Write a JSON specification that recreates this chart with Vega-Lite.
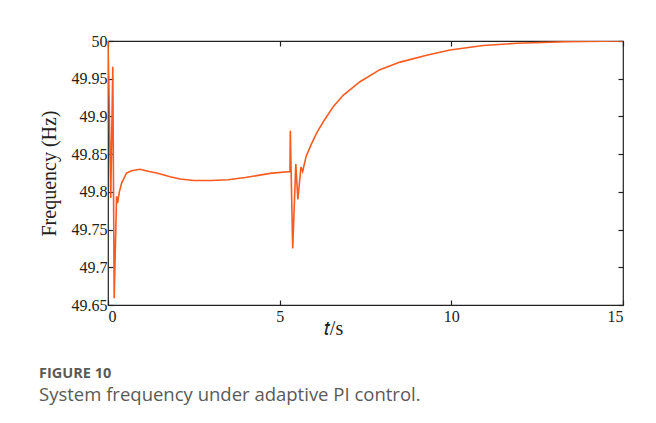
{
  "$schema": "https://vega.github.io/schema/vega-lite/v6.json",
  "width": 515,
  "height": 264,
  "autosize": {"type": "none"},
  "padding": {"left": 108, "top": 41, "right": 33, "bottom": 118},
  "background": "white",
  "config": {
    "view": {"stroke": "#222", "strokeWidth": 1.2},
    "axis": {"domain": false, "grid": false, "tickColor": "#222", "tickSize": -5, "tickWidth": 1.2,
      "labelFont": "Liberation Serif", "labelFontSize": 16, "labelColor": "#222",
      "titleFont": "Liberation Serif", "titleFontSize": 20, "titleFontWeight": "normal", "titleColor": "#222"}
  },
  "title": {
    "text": "FIGURE 10",
    "subtitle": "System frequency under adaptive PI control.",
    "orient": "bottom",
    "anchor": "start",
    "frame": "bounds",
    "offset": 29,
    "font": "Open Sans",
    "fontSize": 14.5,
    "fontWeight": "bold",
    "color": "#5a5a5a",
    "subtitleFont": "Open Sans",
    "subtitleFontSize": 18.5,
    "subtitleColor": "#5a5a5a",
    "subtitlePadding": 4
  },
  "data": {"values": [
    {"t": 0, "f": 50.0},
    {"t": 0.03, "f": 49.93},
    {"t": 0.08, "f": 49.792},
    {"t": 0.14, "f": 49.966},
    {"t": 0.18, "f": 49.659},
    {"t": 0.25, "f": 49.794},
    {"t": 0.28, "f": 49.785},
    {"t": 0.33, "f": 49.8},
    {"t": 0.4, "f": 49.812},
    {"t": 0.54, "f": 49.825},
    {"t": 0.69, "f": 49.828},
    {"t": 0.93, "f": 49.83},
    {"t": 1.2, "f": 49.827},
    {"t": 1.42, "f": 49.825},
    {"t": 1.81, "f": 49.82},
    {"t": 2.1, "f": 49.817},
    {"t": 2.5, "f": 49.815},
    {"t": 3.0, "f": 49.815},
    {"t": 3.5, "f": 49.816},
    {"t": 4.0, "f": 49.819},
    {"t": 4.72, "f": 49.8245},
    {"t": 5.3, "f": 49.827},
    {"t": 5.31, "f": 49.881},
    {"t": 5.38, "f": 49.725},
    {"t": 5.47, "f": 49.837},
    {"t": 5.53, "f": 49.79},
    {"t": 5.62, "f": 49.833},
    {"t": 5.67, "f": 49.827},
    {"t": 5.77, "f": 49.847},
    {"t": 5.93, "f": 49.864},
    {"t": 6.1, "f": 49.88},
    {"t": 6.3, "f": 49.895},
    {"t": 6.56, "f": 49.913},
    {"t": 6.85, "f": 49.928},
    {"t": 7.34, "f": 49.946},
    {"t": 7.92, "f": 49.962},
    {"t": 8.51, "f": 49.972},
    {"t": 9.28, "f": 49.981},
    {"t": 9.96, "f": 49.988},
    {"t": 10.93, "f": 49.994},
    {"t": 11.9, "f": 49.997},
    {"t": 13.36, "f": 49.999},
    {"t": 15, "f": 50.0}
  ]},
  "layer": [
    {
      "mark": {"type": "line", "color": "#fa5a1e", "strokeWidth": 1.6, "clip": true, "interpolate": "linear"},
      "encoding": {
        "x": {"field": "t", "type": "quantitative", "scale": {"domain": [0, 15], "nice": false, "zero": false},
          "axis": {"title": "𝑡/s", "values": [0, 5, 10, 15], "labelPadding": 8, "titleX": 225, "titleY": 29, "titleAlign": "center", "titleBaseline": "alphabetic"}},
        "y": {"field": "f", "type": "quantitative", "scale": {"domain": [49.65, 50], "nice": false, "zero": false},
          "axis": {"title": "Frequency (Hz)", "values": [49.65, 49.7, 49.75, 49.8, 49.85, 49.9, 49.95, 50], "labelExpr": "format(datum.value, '.4~f')", "labelPadding": 6, "titlePadding": 12}}
      }
    },
    {
      "mark": {"type": "line", "opacity": 0},
      "encoding": {
        "x": {"field": "t", "type": "quantitative", "scale": {"domain": [0, 15], "nice": false, "zero": false},
          "axis": {"orient": "top", "title": null, "labels": false, "values": [0, 5, 10, 15]}},
        "y": {"field": "f", "type": "quantitative", "scale": {"domain": [49.65, 50], "nice": false, "zero": false},
          "axis": {"orient": "right", "title": null, "labels": false, "values": [49.65, 49.7, 49.75, 49.8, 49.85, 49.9, 49.95, 50]}}
      }
    }
  ],
  "resolve": {"scale": {"x": "independent", "y": "independent"}, "axis": {"x": "independent", "y": "independent"}}
}
